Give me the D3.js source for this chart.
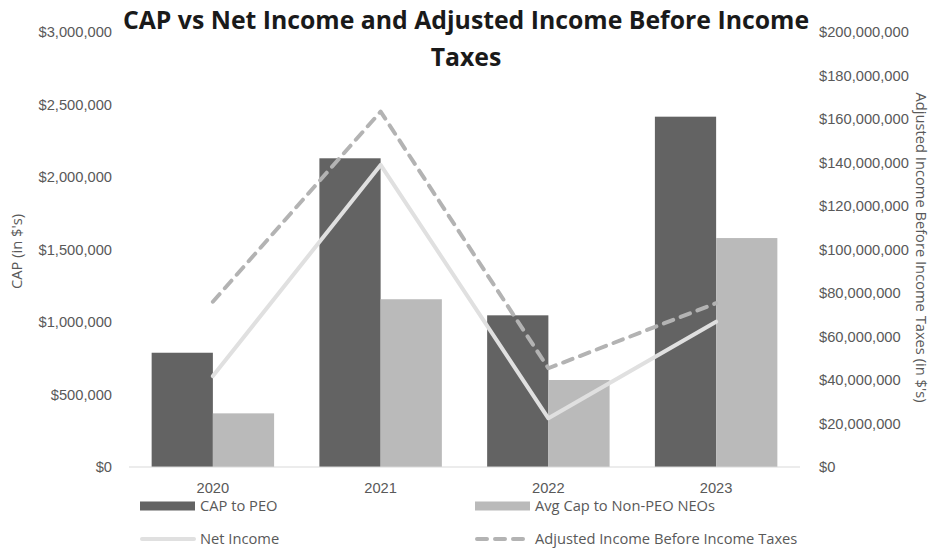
<!DOCTYPE html>
<html>
<head>
<meta charset="utf-8">
<script src="https://cdn.jsdelivr.net/npm/d3@7"></script>
<style>
  body { margin: 0; background: #fff; }
  svg { display: block; font-family: "Open Sans", sans-serif; }
</style>
</head>
<body>
<div id="chart"></div>
<script>
// --- DATA ---
const years = ["2020", "2021", "2022", "2023"];
const capToPeo = [788000, 2129000, 1046000, 2416000];
const avgCapNonPeo = [370000, 1157000, 600000, 1579000];
const netIncome = [41800000, 138900000, 22400000, 66800000];
const adjIncome = [76000000, 163400000, 45400000, 75300000];
const leftTicks = [0, 500000, 1000000, 1500000, 2000000, 2500000, 3000000];
const rightTicks = d3.range(0, 200000001, 20000000);

const width = 935, height = 551;
const margin = {top: 32, right: 135, bottom: 84, left: 129};
const textGrey = "#595959";
const fontSize = "14.7px";

const svg = d3.select("#chart").append("svg")
    .attr("width", width)
    .attr("height", height);

// --- SCALES ---
const x = d3.scaleBand()
    .domain(years)
    .range([margin.left, width - margin.right])
    .paddingInner(0.27)
    .paddingOuter(0.135);

const xSub = d3.scaleBand()
    .domain(["peo", "neo"])
    .range([0, x.bandwidth()]);

const xCenter = d => x(d) + x.bandwidth() / 2;

const yLeft = d3.scaleLinear().domain([0, 3000000]).range([height - margin.bottom, margin.top]);
const yRight = d3.scaleLinear().domain([0, 200000000]).range([height - margin.bottom, margin.top]);

const fmt = d3.format("$,.0f");

// --- AXES ---
const leftAxis = svg.append("g")
    .attr("transform", `translate(${margin.left - 17},0)`)
    .call(d3.axisLeft(yLeft).tickValues(leftTicks).tickFormat(fmt).tickSize(0).tickPadding(0));
leftAxis.select(".domain").remove();

const rightAxis = svg.append("g")
    .attr("transform", `translate(${width - margin.right + 19},0)`)
    .call(d3.axisRight(yRight).tickValues(rightTicks).tickFormat(fmt).tickSize(0).tickPadding(0));
rightAxis.select(".domain").remove();

svg.selectAll(".tick text")
    .attr("fill", textGrey)
    .attr("font-size", fontSize);

const xAxis = svg.append("g")
    .attr("transform", `translate(0,${height - margin.bottom + 16})`)
    .call(d3.axisBottom(x).tickSize(0).tickPadding(0));
xAxis.select(".domain").remove();
xAxis.selectAll("text").attr("fill", textGrey).attr("font-size", fontSize);

// axis titles
svg.append("text")
    .attr("transform", `translate(22,${(margin.top + height - margin.bottom) / 2 + 2}) rotate(-90)`)
    .attr("text-anchor", "middle")
    .attr("fill", textGrey)
    .attr("font-size", fontSize)
    .text("CAP (in $'s)");

svg.append("text")
    .attr("transform", `translate(916,${(margin.top + height - margin.bottom) / 2 - 2}) rotate(90)`)
    .attr("text-anchor", "middle")
    .attr("fill", textGrey)
    .attr("font-size", fontSize)
    .text("Adjusted Income Before Income Taxes (in $'s)");

// --- BARS ---
const groups = svg.append("g")
    .selectAll("g")
    .data(years)
    .join("g")
    .attr("transform", d => `translate(${x(d)},0)`);

groups.append("rect")
    .attr("x", xSub("peo"))
    .attr("width", xSub.bandwidth())
    .attr("y", (d, i) => yLeft(capToPeo[i]))
    .attr("height", (d, i) => yLeft(0) - yLeft(capToPeo[i]))
    .attr("fill", "#636363");

groups.append("rect")
    .attr("x", xSub("neo"))
    .attr("width", xSub.bandwidth())
    .attr("y", (d, i) => yLeft(avgCapNonPeo[i]))
    .attr("height", (d, i) => yLeft(0) - yLeft(avgCapNonPeo[i]))
    .attr("fill", "#bababa");

// baseline
svg.append("line")
    .attr("x1", margin.left)
    .attr("x2", width - margin.right)
    .attr("y1", yLeft(0))
    .attr("y2", yLeft(0))
    .attr("stroke", "#d9d9d9")
    .attr("stroke-width", 1);

// --- LINES ---
const line = d3.line()
    .x((d, i) => xCenter(years[i]))
    .y(d => yRight(d));

svg.append("path")
    .datum(netIncome)
    .attr("d", line)
    .attr("fill", "none")
    .attr("stroke", "#e0e0e0")
    .attr("stroke-width", 4)
    .attr("stroke-linecap", "round")
    .attr("stroke-linejoin", "round");

svg.append("path")
    .datum(adjIncome)
    .attr("d", line)
    .attr("fill", "none")
    .attr("stroke", "#b3b3b3")
    .attr("stroke-width", 4)
    .attr("stroke-dasharray", "10,8")
    .attr("stroke-linecap", "round")
    .attr("stroke-linejoin", "round");

// --- TITLE ---
const title = svg.append("text")
    .attr("text-anchor", "middle")
    .attr("font-size", "24.8px")
    .attr("font-weight", "bold")
    .attr("fill", "#1a1a1a");
title.append("tspan").attr("x", 466).attr("y", 29).text("CAP vs Net Income and Adjusted Income Before Income");
title.append("tspan").attr("x", 466).attr("y", 66).text("Taxes");

// --- LEGEND ---
const legendItems = [
    {label: "CAP to PEO", type: "rect", color: "#636363", x: 140, y: 506},
    {label: "Avg Cap to Non-PEO NEOs", type: "rect", color: "#bababa", x: 475, y: 506},
    {label: "Net Income", type: "line", color: "#e0e0e0", x: 140, y: 539},
    {label: "Adjusted Income Before Income Taxes", type: "dash", color: "#b3b3b3", x: 475, y: 539}
];

const legend = svg.append("g")
    .selectAll("g")
    .data(legendItems)
    .join("g")
    .attr("transform", d => `translate(${d.x},${d.y})`);

legend.filter(d => d.type === "rect").append("rect")
    .attr("x", 0).attr("y", -4.5)
    .attr("width", 55).attr("height", 9)
    .attr("fill", d => d.color);

legend.filter(d => d.type !== "rect").append("line")
    .attr("x1", 2).attr("x2", 54)
    .attr("stroke", d => d.color)
    .attr("stroke-width", 4)
    .attr("stroke-linecap", "round")
    .attr("stroke-dasharray", d => d.type === "dash" ? "10,8" : null);

legend.append("text")
    .attr("x", 60)
    .attr("dy", "0.35em")
    .attr("fill", textGrey)
    .attr("font-size", fontSize)
    .text(d => d.label);
</script>
</body>
</html>
